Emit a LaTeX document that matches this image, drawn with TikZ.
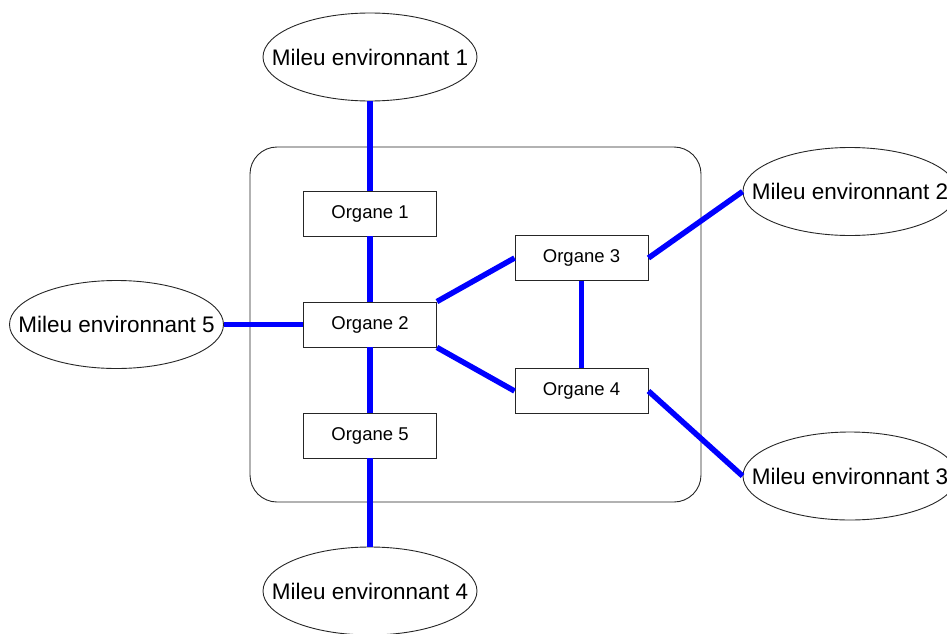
\documentclass[tikz,border=0pt]{standalone}
\usepackage{fontspec}
\setmainfont{Liberation Sans}
\usetikzlibrary{shapes.geometric}
\begin{document}
\begin{tikzpicture}[x=1pt,y=-1pt,
  organ/.style={draw=black!85, line width=0.9pt, fill=white, rectangle,
    minimum width=133pt, minimum height=45pt, inner sep=0pt,
    font=\fontsize{18.5}{20}\selectfont},
  milieu/.style={draw=black!85, line width=0.9pt, fill=white, ellipse,
    minimum width=214pt, minimum height=88pt, inner sep=0pt,
    font=\fontsize{22.5}{24}\selectfont},
  system/.style={draw=black!85, line width=0.9pt, rounded corners=27pt,
    minimum width=451pt, minimum height=355pt, inner sep=0pt},
  link/.style={draw=blue, line width=5.5pt}]
\useasboundingbox (0,0) rectangle (947,634);

% enclosing system
\node[system] (sys) at (475.5,324.5) {};

% organs
\node[organ] (o1) at (370,213.5) {Organe 1};
\node[organ] (o2) at (370,324.5) {Organe 2};
\node[organ] (o5) at (370,435.5) {Organe 5};
\node[organ] (o3) at (581.5,258) {Organe 3};
\node[organ] (o4) at (581.5,391) {Organe 4};

% surrounding environments
\node[milieu] (e1) at (370,57) {\makebox[0pt]{Mileu environnant 1}};
\node[milieu] (e2) at (850,191.5) {\makebox[0pt]{Mileu environnant 2}};
\node[milieu] (e3) at (850,476) {\makebox[0pt]{Mileu environnant 3}};
\node[milieu] (e4) at (370,591) {\makebox[0pt]{Mileu environnant 4}};
\node[milieu] (e5) at (116.5,324.5) {\makebox[0pt]{Mileu environnant 5}};

% connections
\draw[link] (e1.south) -- (o1.north);
\draw[link] (o1.south) -- (o2.north);
\draw[link] (o2.south) -- (o5.north);
\draw[link] (o5.south) -- (e4.north);
\draw[link] (e5.east) -- (o2.west);
\draw[link] (o2.north east) -- (o3.west);
\draw[link] (o2.south east) -- (o4.west);
\draw[link] (o3.south) -- (o4.north);
\draw[link] (o3.east) -- (e2.west);
\draw[link] (o4.east) -- (e3.west);
\end{tikzpicture}
\end{document}
